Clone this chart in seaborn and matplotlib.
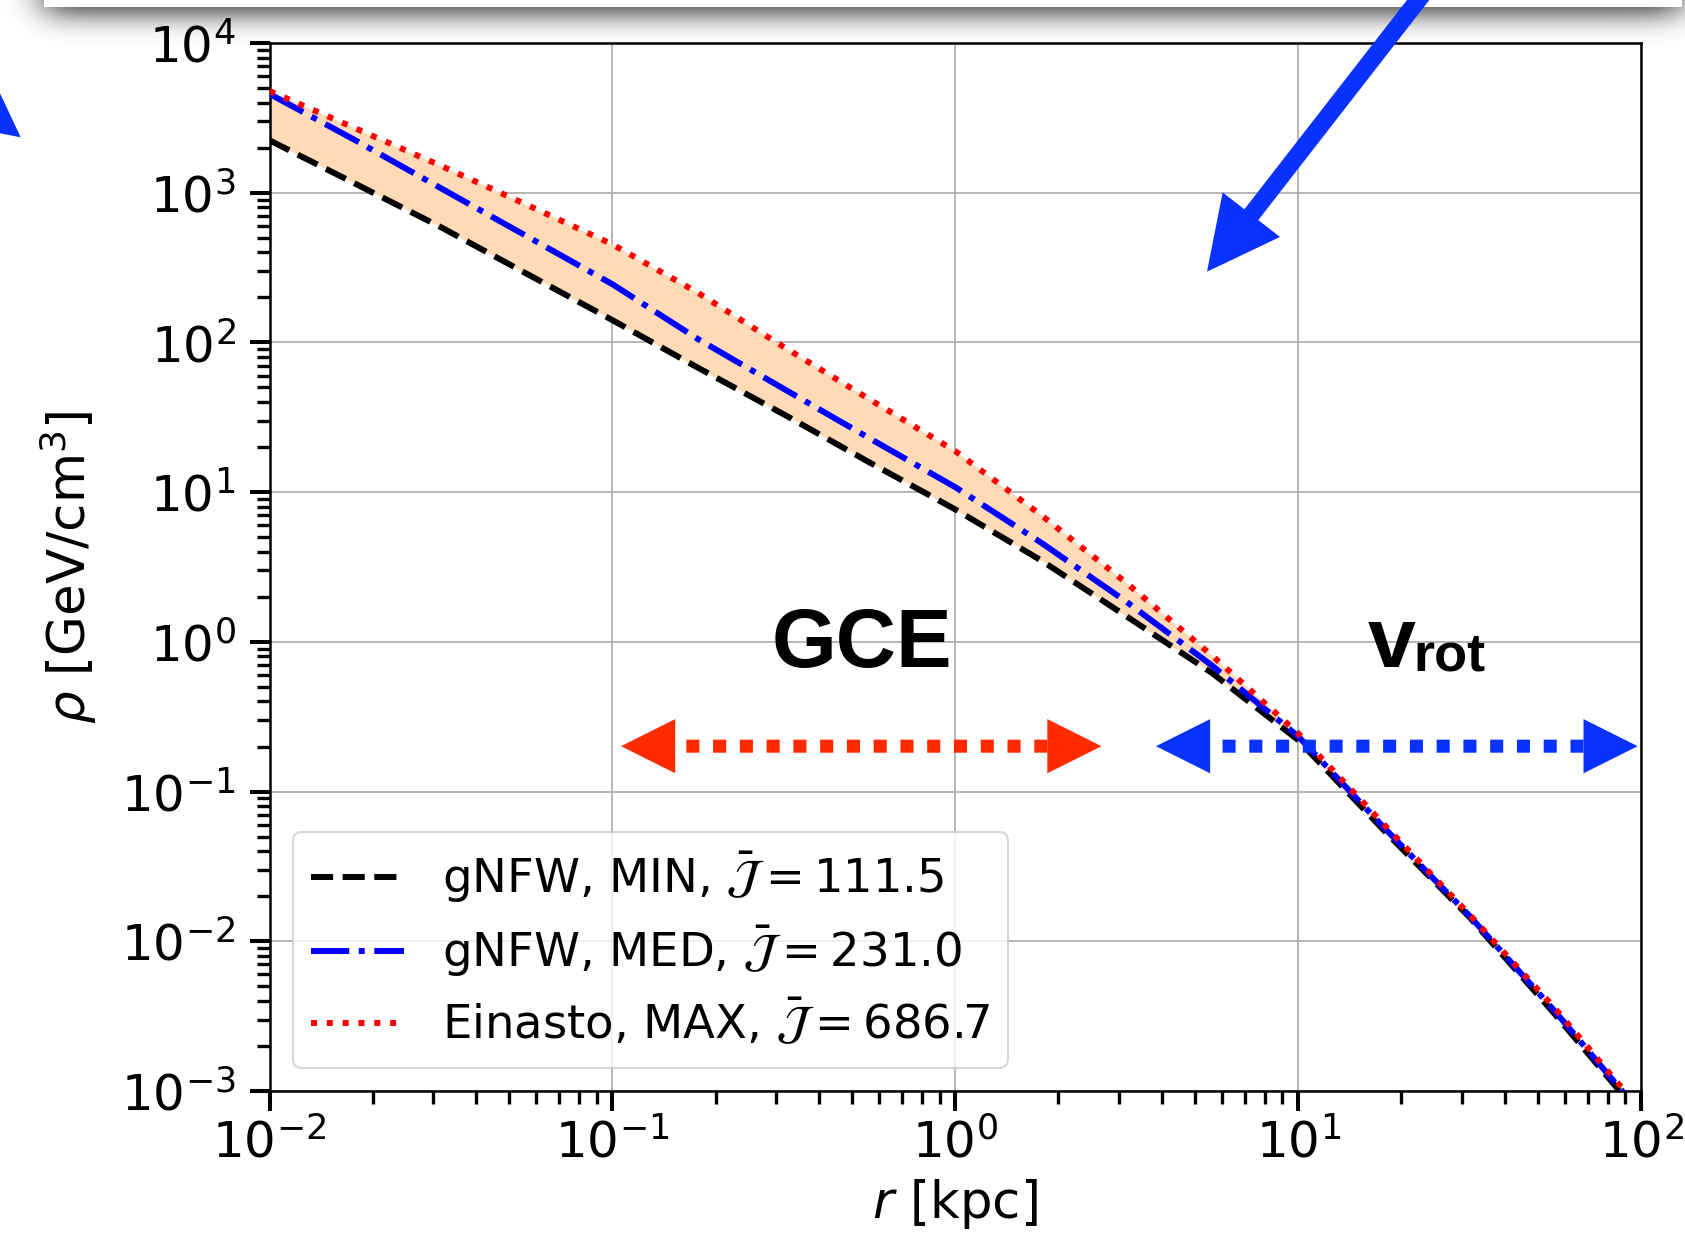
import math
import numpy as np
import pandas as pd
import seaborn as sns
import matplotlib
matplotlib.use("Agg")
import matplotlib.pyplot as plt
from matplotlib.patches import Polygon, FancyArrowPatch
from matplotlib.ticker import LogLocator, NullFormatter

# Dark-matter density profiles, rho(r) in GeV/cm^3
r_kpc = [0.01, 0.0178, 0.0316, 0.0562, 0.1, 0.178, 0.316, 0.562, 1.0,
         1.78, 3.16, 5.62, 10.0, 17.8, 31.6, 56.2, 100.0]
rho_min = [2239, 1148, 589, 288, 141, 67.6, 33.1, 15.8, 7.67,
           3.50, 1.48, 0.617, 0.221, 0.0550, 0.0145, 0.00324, 0.000676]
rho_med = [4571, 2239, 1072, 513, 245, 105, 49.0, 22.9, 10.8,
           4.60, 1.85, 0.692, 0.234, 0.0575, 0.0148, 0.00339, 0.000708]
rho_max = [4786, 2692, 1514, 832, 452, 214, 93.3, 41.7, 18.8,
           7.03, 2.47, 0.807, 0.245, 0.0603, 0.0151, 0.00355, 0.000741]

series_labels = [r"gNFW, MIN, $\bar{\mathcal{J}} = 111.5$",
                 r"gNFW, MED, $\bar{\mathcal{J}} = 231.0$",
                 r"Einasto, MAX, $\bar{\mathcal{J}} = 686.7$"]

# radial ranges of the two observables (kpc) and the height of their arrows
gce_range = (0.106, 2.67)
vrot_range = (3.85, 97.8)
range_arrow_rho = 0.201

sns.set_style("white")
plt.rcParams["font.family"] = ["DejaVu Sans"]
plt.rcParams["mathtext.fontset"] = "dejavusans"
for key in ("text.color", "axes.labelcolor", "xtick.color", "ytick.color",
            "axes.edgecolor"):
    plt.rcParams[key] = "black"

W, H = 1685, 1237
fig = plt.figure(figsize=(W / 100, H / 100), dpi=100)
fig.patch.set_facecolor("white")

# ---- banner with drop shadow along the top edge ----
rows = 70
yy, xx = np.mgrid[0:rows, 0:W].astype(float)
erf = np.frompyfunc(math.erf, 1, 1)
gx = 0.5 * (erf((xx - 44) / (math.sqrt(2) * 18)).astype(float)
            - erf((xx - 1681) / (math.sqrt(2) * 18)).astype(float))
gy = 0.5 * (1 - erf((yy - 12) / (math.sqrt(2) * 14)).astype(float))
shade = 0.85 * gx * gy
img = np.zeros((rows, W, 4))
img[..., 3] = shade
bar = (yy < 6.5) & (xx >= 44) & (xx <= 1681)
img[bar] = [1, 1, 1, 1]
fig.figimage(img, xo=0, yo=H - rows, origin="upper", zorder=0)

# ---- main axes ----
left, right, top, bottom = 269.5, 1641, 43, 1091
ax = fig.add_axes([left / W, 1 - bottom / H, (right - left) / W, (bottom - top) / H])
ax.set_zorder(1)

ax.fill_between(r_kpc, rho_min, rho_max, color="#FFDAB6", lw=0, zorder=2)
sns.lineplot(x=r_kpc, y=rho_min, ax=ax, color="black", linestyle="--",
             linewidth=4.3, label=series_labels[0], zorder=3)
sns.lineplot(x=r_kpc, y=rho_med, ax=ax, color="blue", linestyle="-.",
             linewidth=4.3, label=series_labels[1], zorder=3)
sns.lineplot(x=r_kpc, y=rho_max, ax=ax, color="red", linestyle=":",
             linewidth=4.3, label=series_labels[2], zorder=3)

ax.set_xscale("log")
ax.set_yscale("log")
ax.set_xlim(1e-2, 1e2)
ax.set_ylim(1e-3, 1e4)

ax.xaxis.set_major_locator(LogLocator(base=10, numticks=20))
ax.yaxis.set_major_locator(LogLocator(base=10, numticks=20))
ax.xaxis.set_minor_locator(LogLocator(base=10, subs=np.arange(2, 10), numticks=100))
ax.yaxis.set_minor_locator(LogLocator(base=10, subs=np.arange(2, 10), numticks=100))
ax.xaxis.set_minor_formatter(NullFormatter())
ax.yaxis.set_minor_formatter(NullFormatter())

ax.grid(True, which="major", color="#b0b0b0", lw=1.3)
ax.set_axisbelow(True)
for s in ax.spines.values():
    s.set_linewidth(1.8)
    s.set_color("black")

ax.tick_params(which="major", direction="out", length=14.4, width=2.9,
               labelsize=36, left=True, bottom=True, color="black",
               labelcolor="black")
ax.tick_params(which="minor", direction="out", length=9.5, width=2.4,
               left=True, bottom=True, color="black")
ax.tick_params(axis="y", which="major", pad=10)
ax.tick_params(axis="x", which="major", pad=5)

ax.set_xlabel(r"$r$ [kpc]", fontsize=37, color="black")
ax.set_ylabel(r"$\rho$ [GeV/cm$^3$]", fontsize=37, color="black")
ax.xaxis.set_label_coords(0.5, -0.082)
ax.yaxis.set_label_coords(-0.1243, 0.5)

leg = ax.legend(loc="lower left", fontsize=33.5, framealpha=0.8,
                edgecolor="#cccccc", fancybox=True, labelspacing=0.4)
leg.get_frame().set_linewidth(1.5)
leg.set_zorder(10)
for t in leg.get_texts():
    t.set_color("black")

# ---- range arrows for the two observables ----
def range_arrow(lo, hi, color):
    ax.annotate("", xy=(lo, range_arrow_rho), xytext=(hi, range_arrow_rho),
                arrowprops=dict(arrowstyle="-", lw=9.4, color=color,
                                linestyle=(0, (1, 1.05)), capstyle="butt",
                                shrinkA=39, shrinkB=39),
                zorder=6)
    ax.annotate("", xy=(lo, range_arrow_rho), xytext=(hi, range_arrow_rho),
                arrowprops=dict(arrowstyle="<|-|>,head_length=39,head_width=19.5",
                                mutation_scale=1, lw=0, color=color,
                                shrinkA=0, shrinkB=0),
                zorder=6)

range_arrow(*gce_range, "#FF2A00")
range_arrow(*vrot_range, "#0A32FF")

ax.text(0.432, 0.4049, "GCE", transform=ax.transAxes, ha="center", va="baseline",
        fontsize=60, fontweight="bold", family="Liberation Sans", color="black", zorder=7)
ax.text(0.801, 0.4049, "v", transform=ax.transAxes, ha="left", va="baseline",
        fontsize=62, fontweight="bold", family="Liberation Sans", color="black", zorder=7)
ax.text(0.834, 0.4008, "rot", transform=ax.transAxes, ha="left", va="baseline",
        fontsize=39, fontweight="bold", family="Liberation Sans", color="black", zorder=7)

# ---- pointer arrows entering from outside the frame ----
def fig_frac(px, py):
    return (px / W, 1 - py / H)

tip = (1207, 271.7)
ux, uy = 0.6136, -0.7895
tail = (tip[0] + 450 * ux, tip[1] + 450 * uy)
big_arrow = FancyArrowPatch(fig_frac(*tail), fig_frac(*tip), transform=fig.transFigure,
                            arrowstyle="simple,head_length=52,head_width=52.3,tail_width=12.7",
                            mutation_scale=1, lw=0, color="#0A32FF",
                            shrinkA=0, shrinkB=0, zorder=20)
fig.add_artist(big_arrow)

corner = Polygon([fig_frac(-10, 72.0), fig_frac(20.7, 137.3), fig_frac(-10, 131.4)],
                 closed=True, transform=fig.transFigure, color="#0A32FF", lw=0, zorder=20)
fig.add_artist(corner)

fig.savefig("out.png", dpi=100, facecolor="white")
